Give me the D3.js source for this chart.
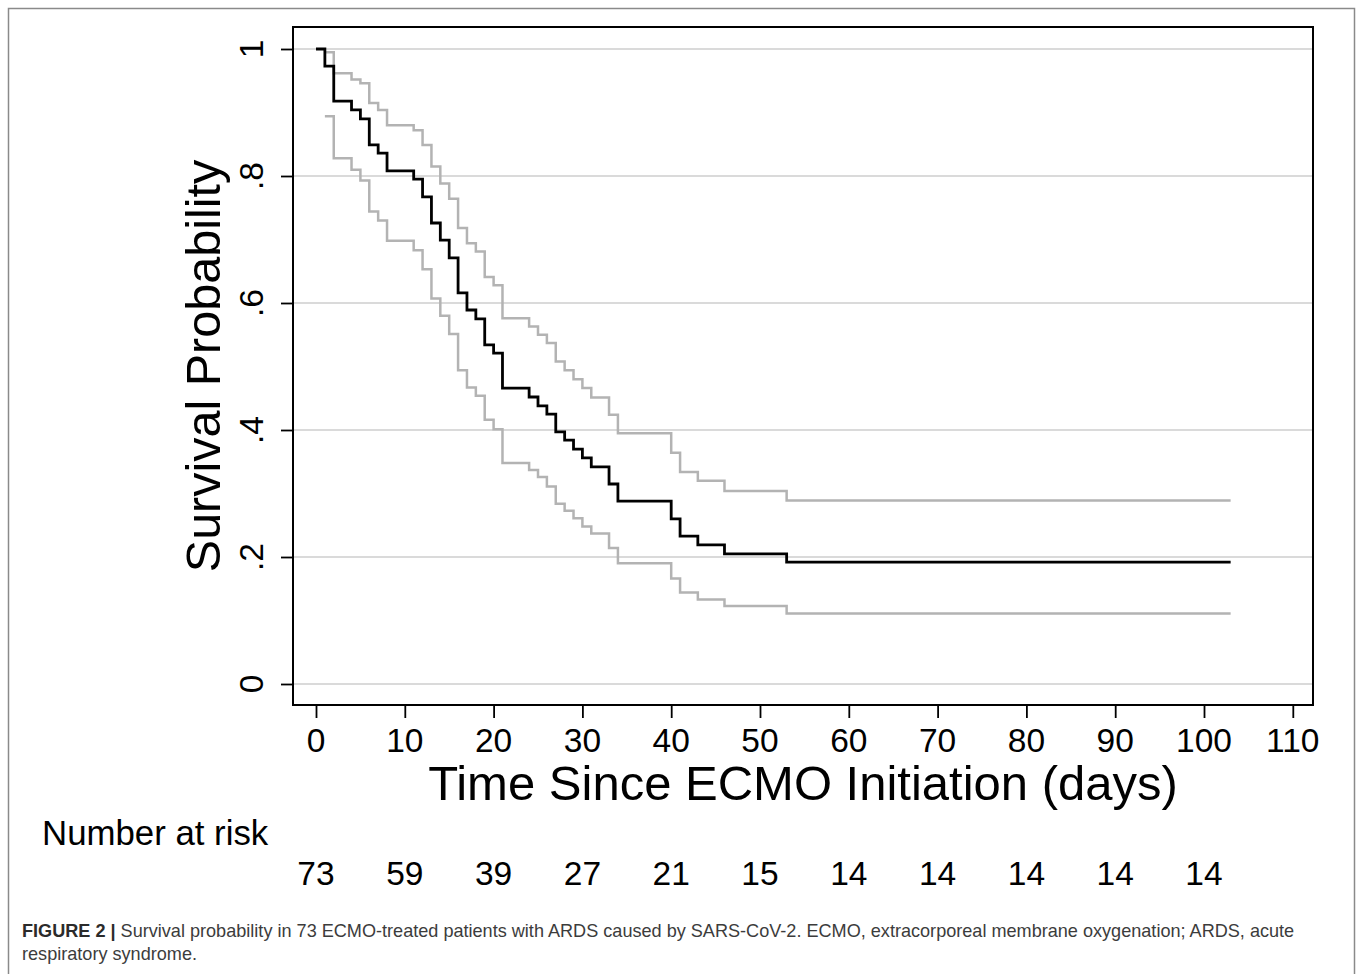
<!DOCTYPE html>
<html>
<head>
<meta charset="UTF-8">
<title>Survival probability - ECMO</title>
<script src="https://cdnjs.cloudflare.com/ajax/libs/d3/7.8.5/d3.min.js"></script>
<style>
    body { margin: 0; background: #fff; }
    svg { display: block; font-family: "Liberation Sans", Arial, sans-serif; }
</style>
</head>
<body>
<div id="chart"></div>
<script>
// Kaplan-Meier estimate
const times    = [0, 1, 2, 4, 5, 6, 7, 8, 11, 12, 13, 14, 15, 16, 17, 18, 19, 20, 21, 24, 25, 26, 27, 28, 29, 30, 31, 33, 34, 40, 41, 43, 46, 53, 103];
const survival = [1, 0.973, 0.918, 0.904, 0.890, 0.849, 0.836, 0.808, 0.795, 0.767, 0.726, 0.699, 0.671, 0.616, 0.589, 0.575, 0.534, 0.521, 0.466, 0.452, 0.438, 0.425, 0.397, 0.384, 0.370, 0.356, 0.342, 0.315, 0.288, 0.260, 0.233, 0.219, 0.205, 0.192, 0.192];

// 95% CI bands start at the first event (day 1)
const ciTimes  = [1, 2, 4, 5, 6, 7, 8, 11, 12, 13, 14, 15, 16, 17, 18, 19, 20, 21, 24, 25, 26, 27, 28, 29, 30, 31, 33, 34, 40, 41, 43, 46, 53, 103];
const upperCI  = [0.995, 0.962, 0.952, 0.946, 0.915, 0.904, 0.880, 0.872, 0.849, 0.815, 0.788, 0.764, 0.718, 0.694, 0.681, 0.641, 0.628, 0.576, 0.563, 0.550, 0.537, 0.508, 0.494, 0.480, 0.466, 0.451, 0.424, 0.395, 0.364, 0.334, 0.320, 0.304, 0.289, 0.289];
const lowerCI  = [0.894, 0.828, 0.810, 0.793, 0.744, 0.730, 0.698, 0.683, 0.653, 0.607, 0.580, 0.551, 0.494, 0.467, 0.454, 0.416, 0.401, 0.348, 0.337, 0.326, 0.311, 0.284, 0.273, 0.261, 0.248, 0.237, 0.214, 0.190, 0.166, 0.144, 0.133, 0.123, 0.111, 0.111];

const riskTimes  = [0, 10, 20, 30, 40, 50, 60, 70, 80, 90, 100];
const riskCounts = [73, 59, 39, 27, 21, 15, 14, 14, 14, 14, 14];

const xTicks = [0, 10, 20, 30, 40, 50, 60, 70, 80, 90, 100, 110];
const yTicks = [0, 0.2, 0.4, 0.6, 0.8, 1];
const yTickLabels = ["0", ".2", ".4", ".6", ".8", "1"];

const W = 1357, H = 974;
const box = { left: 293, right: 1313, top: 27, bottom: 705 };

const svg = d3.select("#chart").append("svg")
    .attr("width", W)
    .attr("height", H);

// outer figure frame
svg.append("rect")
    .attr("x", 8.5).attr("y", 8.5)
    .attr("width", 1346).attr("height", 980)
    .attr("fill", "none")
    .attr("stroke", "#8a8a8a")
    .attr("stroke-width", 1.5);

const x = d3.scaleLinear().domain([0, 110]).range([316, 1292.8]);
const y = d3.scaleLinear().domain([0, 1]).range([684, 49]);

// gridlines
svg.append("g")
    .selectAll("line")
    .data(yTicks)
    .join("line")
    .attr("x1", box.left).attr("x2", box.right)
    .attr("y1", d => y(d)).attr("y2", d => y(d))
    .attr("stroke", "#dadada")
    .attr("stroke-width", 2);

// curves
const step = (xs, ys) => d3.line()
    .x((d, i) => x(xs[i]))
    .y(d => y(d))
    .curve(d3.curveStepAfter)(ys);

svg.append("path")
    .attr("d", step(ciTimes, upperCI))
    .attr("fill", "none").attr("stroke", "#b3b3b3").attr("stroke-width", 2.5);
svg.append("path")
    .attr("d", step(ciTimes, lowerCI))
    .attr("fill", "none").attr("stroke", "#b3b3b3").attr("stroke-width", 2.5);
svg.append("path")
    .attr("d", step(times, survival))
    .attr("fill", "none").attr("stroke", "#000").attr("stroke-width", 2.8);

// plot frame
svg.append("rect")
    .attr("x", box.left).attr("y", box.top)
    .attr("width", box.right - box.left).attr("height", box.bottom - box.top)
    .attr("fill", "none").attr("stroke", "#000").attr("stroke-width", 2);

// y axis
const yAxis = svg.append("g")
    .attr("transform", `translate(${box.left},0)`)
    .call(d3.axisLeft(y).tickValues(yTicks).tickSize(12).tickFormat(""));
yAxis.select(".domain").remove();
yAxis.selectAll(".tick line").attr("stroke", "#000").attr("stroke-width", 1.8);

svg.append("g")
    .selectAll("text")
    .data(yTicks)
    .join("text")
    .attr("transform", d => `translate(263,${y(d)}) rotate(-90)`)
    .attr("text-anchor", "middle")
    .attr("font-size", 33.5)
    .text((d, i) => yTickLabels[i]);

// x axis
const xAxis = svg.append("g")
    .attr("transform", `translate(0,${box.bottom})`)
    .call(d3.axisBottom(x).tickValues(xTicks).tickSize(13).tickFormat(""));
xAxis.select(".domain").remove();
xAxis.selectAll(".tick line").attr("stroke", "#000").attr("stroke-width", 1.8);

svg.append("g")
    .selectAll("text")
    .data(xTicks)
    .join("text")
    .attr("x", d => x(d))
    .attr("y", 752)
    .attr("text-anchor", "middle")
    .attr("font-size", 33.5)
    .text(d => d);

// axis titles
svg.append("text")
    .attr("x", (box.left + box.right) / 2)
    .attr("y", 800)
    .attr("text-anchor", "middle")
    .attr("font-size", 49)
    .text("Time Since ECMO Initiation (days)");

svg.append("text")
    .attr("transform", `translate(220,${(box.top + box.bottom) / 2}) rotate(-90)`)
    .attr("text-anchor", "middle")
    .attr("font-size", 48.5)
    .text("Survival Probability");

// number at risk table
svg.append("text")
    .attr("x", 42).attr("y", 845)
    .attr("font-size", 34.8)
    .text("Number at risk");

svg.append("g")
    .selectAll("text")
    .data(riskTimes)
    .join("text")
    .attr("x", d => x(d))
    .attr("y", 885)
    .attr("text-anchor", "middle")
    .attr("font-size", 33.5)
    .text((d, i) => riskCounts[i]);

// caption
const cap1 = svg.append("text")
    .attr("x", 22).attr("y", 937)
    .attr("font-size", 18.1)
    .attr("fill", "#3c3c3c");
cap1.append("tspan").attr("font-weight", "bold").attr("fill", "#2b2b2b").text("FIGURE 2 |");
cap1.append("tspan").text(" Survival probability in 73 ECMO-treated patients with ARDS caused by SARS-CoV-2. ECMO, extracorporeal membrane oxygenation; ARDS, acute");

svg.append("text")
    .attr("x", 22).attr("y", 960)
    .attr("font-size", 18.1)
    .attr("fill", "#3c3c3c")
    .text("respiratory syndrome.");
</script>
</body>
</html>
